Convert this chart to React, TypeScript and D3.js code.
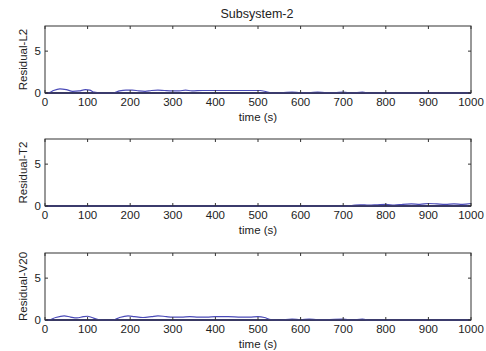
import React, { useEffect, useRef } from 'react';
import * as d3 from 'd3';

// --- DATA ---
const panelLabels = ['Residual-L2', 'Residual-T2', 'Residual-V20'];
const xTicks = [0, 100, 200, 300, 400, 500, 600, 700, 800, 900, 1000];
const yTicks = [0, 5];

const l2Time = [0, 10, 20, 35, 50, 65, 80, 95, 105, 115, 130, 160, 175, 190, 205, 220, 235, 250, 265, 280, 300, 315, 330, 345, 370, 400, 430, 460, 490, 505, 520, 535, 560, 580, 600, 620, 640, 660, 680, 700, 720, 745, 760, 800, 1000];
const l2Values = [0, 0.05, 0.3, 0.5, 0.4, 0.2, 0.25, 0.4, 0.35, 0.1, 0, 0, 0.25, 0.35, 0.35, 0.25, 0.2, 0.3, 0.35, 0.3, 0.25, 0.25, 0.35, 0.25, 0.3, 0.3, 0.3, 0.3, 0.3, 0.3, 0.15, 0, 0.05, 0.1, 0.05, 0.05, 0.1, 0.05, 0.05, 0.1, 0, 0.1, 0, 0, 0];

const t2Time = [0, 700, 720, 740, 760, 780, 800, 820, 840, 860, 880, 900, 920, 940, 960, 980, 1000];
const t2Values = [0, 0, 0.05, 0.15, 0.1, 0.15, 0.2, 0.1, 0.2, 0.25, 0.2, 0.3, 0.25, 0.2, 0.25, 0.2, 0.3];

const v20Time = [0, 10, 25, 45, 60, 75, 90, 100, 110, 125, 140, 160, 175, 195, 210, 230, 250, 265, 285, 300, 320, 340, 360, 380, 400, 430, 460, 480, 500, 515, 530, 550, 580, 600, 620, 640, 660, 700, 720, 745, 760, 1000];
const v20Values = [0, 0.02, 0.3, 0.5, 0.35, 0.25, 0.4, 0.45, 0.3, 0.05, 0, 0, 0.3, 0.5, 0.4, 0.3, 0.4, 0.5, 0.4, 0.35, 0.35, 0.4, 0.35, 0.35, 0.4, 0.4, 0.35, 0.35, 0.4, 0.3, 0.05, 0, 0.1, 0.05, 0.1, 0.05, 0.05, 0.1, 0.02, 0.1, 0, 0];

const seriesTimes = [l2Time, t2Time, v20Time];
const seriesValues = [l2Values, t2Values, v20Values];

const App: React.FC = () => {
  const svgRef = useRef<SVGSVGElement>(null);

  useEffect(() => {
    if (!svgRef.current) return;
    const svg = d3.select(svgRef.current);
    svg.selectAll('*').remove();

    const width = 486;
    const left = 45;
    const right = 471;
    const panelTops = [26, 139, 253];
    const panelHeight = 67;
    const font = 'Liberation Sans, Arial, sans-serif';

    svg.append('rect').attr('width', width).attr('height', 351).attr('fill', '#fff');

    svg.append('text')
      .attr('x', 257).attr('y', 18)
      .attr('text-anchor', 'middle')
      .attr('font-family', font).attr('font-size', 12.5)
      .attr('fill', '#222')
      .text('Subsystem-2');

    const x = d3.scaleLinear().domain([0, 1000]).range([left, right]);

    panelLabels.forEach((label, i) => {
      const top = panelTops[i];
      const bottom = top + panelHeight;
      const y = d3.scaleLinear().domain([0, 8]).range([bottom, top]);
      const g = svg.append('g');

      // zero line (dark)
      g.append('line')
        .attr('x1', x(0)).attr('x2', x(1000))
        .attr('y1', y(0)).attr('y2', y(0))
        .attr('stroke', '#000070').attr('stroke-width', 1.6);

      // residual curve
      const pts = seriesTimes[i].map((t, k) => [t, seriesValues[i][k]] as [number, number]);
      const line = d3.line<[number, number]>()
        .x(d => x(d[0]))
        .y(d => y(d[1]))
        .curve(d3.curveMonotoneX);
      g.append('path')
        .attr('d', line(pts))
        .attr('fill', 'none')
        .attr('stroke', '#4a4ab8').attr('stroke-width', 1.2);

      // box
      g.append('rect')
        .attr('x', left).attr('y', top)
        .attr('width', right - left).attr('height', panelHeight)
        .attr('fill', 'none').attr('stroke', '#333').attr('stroke-width', 1);

      // x ticks (inward, mirrored top)
      xTicks.forEach(t => {
        g.append('line').attr('x1', x(t)).attr('x2', x(t)).attr('y1', bottom).attr('y2', bottom - 3).attr('stroke', '#333');
        g.append('line').attr('x1', x(t)).attr('x2', x(t)).attr('y1', top).attr('y2', top + 3).attr('stroke', '#333');
        g.append('text')
          .attr('x', x(t)).attr('y', bottom + 13)
          .attr('text-anchor', 'middle')
          .attr('font-family', font).attr('font-size', 11.5)
          .attr('fill', '#222')
          .text(String(t));
      });

      // y ticks
      yTicks.forEach(t => {
        g.append('line').attr('x1', left).attr('x2', left + 3).attr('y1', y(t)).attr('y2', y(t)).attr('stroke', '#333');
        g.append('line').attr('x1', right).attr('x2', right - 3).attr('y1', y(t)).attr('y2', y(t)).attr('stroke', '#333');
        g.append('text')
          .attr('x', left - 4).attr('y', y(t)).attr('dy', '0.35em')
          .attr('text-anchor', 'end')
          .attr('font-family', font).attr('font-size', 11.5)
          .attr('fill', '#222')
          .text(String(t));
      });

      // axis labels
      g.append('text')
        .attr('x', (left + right) / 2).attr('y', bottom + 28)
        .attr('text-anchor', 'middle')
        .attr('font-family', font).attr('font-size', 11.5)
        .attr('fill', '#222')
        .text('time (s)');

      g.append('text')
        .attr('transform', `translate(27,${(top + bottom) / 2}) rotate(-90)`)
        .attr('text-anchor', 'middle')
        .attr('font-family', font).attr('font-size', 11.5)
        .attr('fill', '#222')
        .text(label);
    });
  }, []);

  return (
    <div style={{ position: 'absolute', left: 0, top: 0 }}>
      <svg ref={svgRef} width={486} height={351} style={{ display: 'block' }} />
    </div>
  );
};

export default App;
